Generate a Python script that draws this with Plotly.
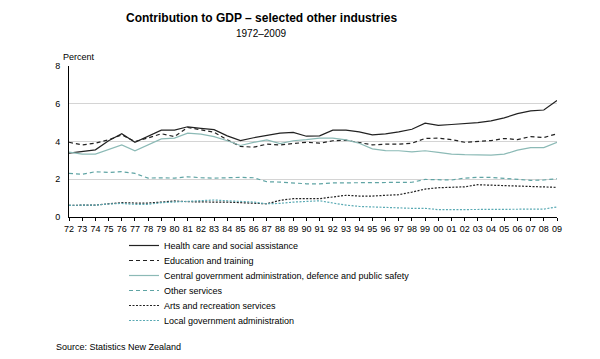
import plotly.graph_objects as go

years = list(range(1972, 2010))
tick_labels = [str(y)[2:] for y in years]

health = [3.38, 3.47, 3.56, 4.04, 4.41, 3.96, 4.30, 4.60, 4.60, 4.78, 4.70, 4.63, 4.30, 4.05, 4.20, 4.33, 4.44, 4.48, 4.28, 4.30,
          4.60, 4.60, 4.51, 4.35, 4.40, 4.51, 4.65, 4.97, 4.85, 4.90, 4.95, 5.00, 5.09, 5.25, 5.48, 5.62, 5.67, 6.17]
education = [3.96, 3.82, 3.91, 4.09, 4.35, 4.00, 4.19, 4.41, 4.26, 4.74, 4.62, 4.49, 4.09, 3.74, 3.70, 3.86, 3.82, 3.88, 3.96, 3.91,
             4.04, 4.07, 3.95, 3.82, 3.86, 3.86, 3.91, 4.16, 4.18, 4.10, 3.96, 4.00, 4.05, 4.16, 4.10, 4.26, 4.21, 4.41]
central_gov = [3.44, 3.33, 3.33, 3.56, 3.82, 3.51, 3.82, 4.14, 4.18, 4.44, 4.39, 4.26, 4.04, 3.79, 3.95, 4.09, 3.89, 4.04, 4.10, 4.18,
               4.18, 4.09, 3.91, 3.61, 3.52, 3.51, 3.45, 3.51, 3.42, 3.33, 3.30, 3.28, 3.28, 3.33, 3.54, 3.68, 3.68, 3.96]
other_services = [2.31, 2.26, 2.40, 2.36, 2.40, 2.31, 2.06, 2.08, 2.06, 2.13, 2.08, 2.06, 2.08, 2.10, 2.08, 1.87, 1.85, 1.80, 1.76, 1.76,
                  1.81, 1.81, 1.81, 1.81, 1.81, 1.81, 1.84, 1.99, 1.99, 1.96, 2.06, 2.10, 2.10, 2.06, 1.99, 1.94, 1.96, 2.03]
arts = [0.62, 0.62, 0.63, 0.70, 0.76, 0.74, 0.74, 0.79, 0.85, 0.81, 0.79, 0.79, 0.79, 0.76, 0.76, 0.70, 0.88, 0.97, 0.97, 0.97,
        1.06, 1.15, 1.11, 1.11, 1.15, 1.18, 1.32, 1.48, 1.55, 1.57, 1.60, 1.71, 1.69, 1.66, 1.64, 1.62, 1.57, 1.57]
local_gov = [0.62, 0.62, 0.63, 0.69, 0.72, 0.67, 0.67, 0.76, 0.79, 0.81, 0.88, 0.90, 0.86, 0.83, 0.79, 0.70, 0.72, 0.79, 0.81, 0.86,
             0.74, 0.63, 0.56, 0.53, 0.51, 0.48, 0.46, 0.46, 0.39, 0.39, 0.39, 0.39, 0.39, 0.39, 0.41, 0.42, 0.42, 0.53]

series = [
    ("Health care and social assistance", health, "#222222", "solid"),
    ("Education and training", education, "#222222", "4px,3px"),
    ("Central government administration, defence and public safety", central_gov, "#8cbab6", "solid"),
    ("Other services", other_services, "#5fa4a4", "4px,3px"),
    ("Arts and recreation services", arts, "#222222", "2px,1.5px"),
    ("Local government administration", local_gov, "#5aaab4", "2px,1.5px"),
]

FONT = "Liberation Sans, Arial, sans-serif"
OFF = 8                     # page body margin offset
L, T, PW, PH = 69, 66, 488, 151   # plot area in page pixels
W, H = 600 - OFF, 359 - OFF


def px(x):
    return (x - L) / PW


def py(y):
    return (T + PH - y) / PH


fig = go.Figure()
legend_layouts = {}
for i, (name, vals, color, dash) in enumerate(series):
    lg = "legend" if i == 0 else f"legend{i + 1}"
    fig.add_trace(go.Scatter(x=years, y=vals, name=name, mode="lines", legend=lg,
                             line=dict(color=color, width=1.2, dash=dash)))
    row_y = 245.5 + 15 * i
    legend_layouts[lg] = dict(x=px(124), xanchor="left", y=py(row_y), yanchor="middle",
                              font=dict(size=9, family=FONT), bgcolor="rgba(0,0,0,0)", borderwidth=0)

fig.update_layout(
    width=W, height=H,
    margin=dict(l=L - OFF, r=W - (L - OFF) - PW, t=T - OFF, b=H - (T - OFF) - PH, pad=0),
    paper_bgcolor="white", plot_bgcolor="white",
    font=dict(family=FONT, size=9, color="#000000"),
    showlegend=True,
    xaxis=dict(range=[1972, 2009], tickmode="array", tickvals=years, ticktext=tick_labels,
               showgrid=False, showline=True, linecolor="#000000", linewidth=1,
               ticks="outside", ticklen=3, tickcolor="#000000", tickfont=dict(size=9),
               zeroline=False),
    yaxis=dict(range=[0, 8], dtick=2, showgrid=True, gridcolor="#d4d4d4", gridwidth=1,
               showline=True, linecolor="#000000", linewidth=1, ticks="", zeroline=False,
               tickfont=dict(size=9), ticklabelstandoff=6),
    **legend_layouts,
)

fig.add_annotation(text="<b>Contribution to GDP – selected other industries</b>", xref="paper", yref="paper",
                   x=px(261), y=py(18), xanchor="center", yanchor="middle",
                   showarrow=False, font=dict(size=12, family=FONT))
fig.add_annotation(text="1972–2009", xref="paper", yref="paper",
                   x=px(261), y=py(33), xanchor="center", yanchor="middle",
                   showarrow=False, font=dict(size=10, family=FONT))
fig.add_annotation(text="Percent", xref="paper", yref="paper",
                   x=px(61), y=py(57), xanchor="left", yanchor="middle",
                   showarrow=False, font=dict(size=9, family=FONT))
fig.add_annotation(text="Source: Statistics New Zealand", xref="paper", yref="paper",
                   x=px(54), y=py(347), xanchor="left", yanchor="middle",
                   showarrow=False, font=dict(size=9, family=FONT))

fig.write_html("out.html")
